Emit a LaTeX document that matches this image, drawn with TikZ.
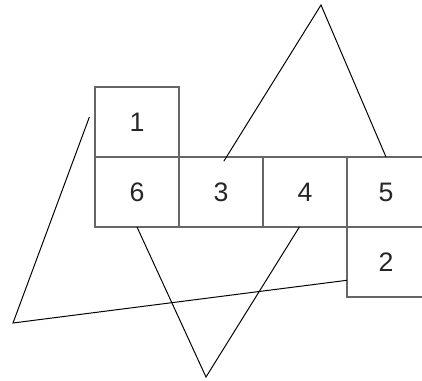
\documentclass[tikz,border=0pt]{standalone}
\usepackage{fontspec}
\setmainfont{Liberation Sans}
\begin{document}
\begin{tikzpicture}[x=0.025cm, y=-0.025cm,
  cell/.style={draw=black!60, line width=1pt, inner sep=0pt, outer sep=0pt,
    minimum width=2.1cm, minimum height=1.75cm,
    font=\fontsize{19}{22}\selectfont, text=black!85},
  thin cut/.style={black, line width=0.7pt}]
\useasboundingbox (0,0) rectangle (422,381);
% net of the cube: one column on the left, a row of four, one below the end
\node[cell] (n1) at (137,122) {1};
\node[cell] (n6) at (137,192) {6};
\node[cell] (n3) at (221,192) {3};
\node[cell] (n4) at (305,192) {4};
\node[cell, minimum width=1.95cm] (n5) at (386,192) {5};
\node[cell, minimum width=1.95cm] (n2) at (386,262) {2};
% free ends and corners of the three broken lines
\coordinate (topA) at (321,5);
\coordinate (leftA) at (13,323);
\coordinate (botA) at (206,377);
\draw[thin cut] ([xshift=-4pt,yshift=3.5pt]n1.west) -- (leftA)
  -- ([yshift=-13pt]n2.west);
\draw[thin cut] ([xshift=2pt,yshift=-3pt]n3.north) -- (topA) -- (n5.north);
\draw[thin cut] (n6.south) -- (botA) -- ([xshift=-4pt]n4.south);
\end{tikzpicture}
\end{document}
